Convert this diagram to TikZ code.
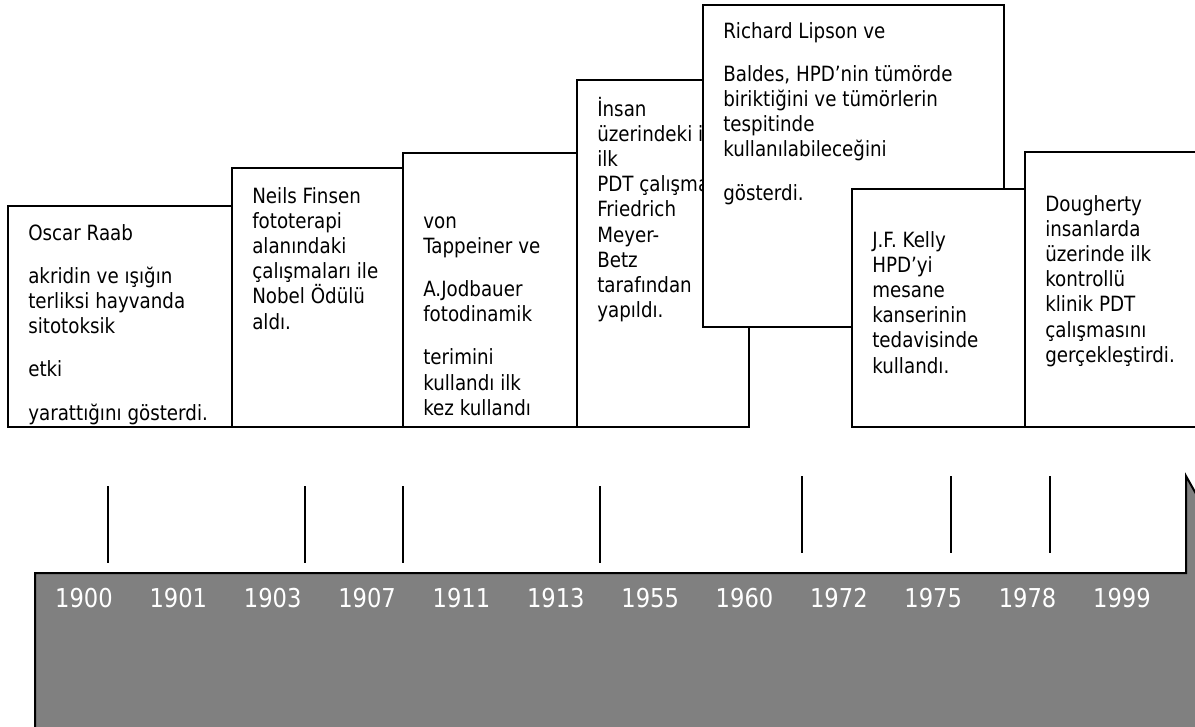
\documentclass[tikz,border=0pt]{standalone}
\usepackage{fontspec}
\setmainfont{DejaVu Sans}[FakeStretch=0.87]
% stacked text lines with a fixed baseline distance
\newcommand\txtlines[1]{\vtop{\baselineskip=18.9pt\lineskiplimit=-100pt\lineskip=0pt\relax#1}}
\newcommand\tline[1]{\hbox{#1}}
\newcommand\pgap{\vskip13.5pt\relax}
\definecolor{bargray}{HTML}{808080}
\begin{document}
\begin{tikzpicture}[x=0.75pt,y=-0.75pt,
  card/.style={draw=black,fill=white,line width=1.5pt},
  txt/.style={anchor=base west,inner sep=0pt,font=\fontsize{15.75pt}{18.9pt}\selectfont},
  year/.style={anchor=base,inner sep=0pt,text=white,font=\fontsize{19.5pt}{22pt}\selectfont},
  tick/.style={draw=black,line width=1.2pt},
  bar/.style={draw=black,fill=bargray,line width=1.5pt}]
\useasboundingbox (0,0) rectangle (1195,726);
\clip (0,0) rectangle (1195,726);

% timeline bar (block arrow pointing right)
\draw[bar] (35,573) -- (1186,573) -- (1186,476) -- (1250,590) -- (1250,760) -- (35,760) -- cycle;

% years
\foreach \yr [count=\i from 0] in {1900,1901,1903,1907,1911,1913,1955,1960,1972,1975,1978,1999}
  \node[year] (y\yr) at ({84+94.36*\i},607) {\yr};

% ticks
\foreach \tx in {108,305,403,600}
  \draw[tick] (\tx,486) -- (\tx,563);
\foreach \tx in {802,951,1050}
  \draw[tick] (\tx,476) -- (\tx,553);

% 1900
\draw[card] (8,206) rectangle (232,427);
\node[txt] (raab) at (28,240) {\txtlines{%
  \tline{Oscar Raab}\pgap
  \tline{akridin ve ışığın}\tline{terliksi hayvanda}\tline{sitotoksik}\pgap
  \tline{etki}\pgap
  \tline{yarattığını gösterdi.}}};

% 1903
\draw[card] (232,168) rectangle (403,427);
\node[txt] (finsen) at (252,203) {\txtlines{%
  \tline{Neils Finsen}\tline{fototerapi}\tline{alanındaki}\tline{çalışmaları ile}%
  \tline{Nobel Ödülü}\tline{aldı.}}};

% 1907
\draw[card] (403,153) rectangle (577,427);
\node[txt] (tappeiner) at (423,228) {\txtlines{%
  \tline{von}\tline{Tappeiner ve}\pgap
  \tline{A.Jodbauer}\tline{fotodinamik}\pgap
  \tline{terimini}\tline{kullandı ilk}\tline{kez kullandı}}};

% 1913
\draw[card] (577,80) rectangle (749,427);
\node[txt] (meyerbetz) at (597,116) {\txtlines{%
  \tline{İnsan}\tline{üzerindeki i}\tline{ilk}\tline{PDT çalışma}\tline{Friedrich}%
  \tline{Meyer-}\tline{Betz}\tline{tarafından}\tline{yapıldı.}}};

% 1960
\draw[card] (703,5) rectangle (1004,327);
\node[txt] (lipson) at (723,38) {\txtlines{%
  \tline{Richard Lipson ve}\pgap
  \tline{Baldes, HPD’nin tümörde}\tline{biriktiğini ve tümörlerin}%
  \tline{tespitinde}\tline{kullanılabileceğini}\pgap
  \tline{gösterdi.}}};

% 1975
\draw[card] (852,189) rectangle (1025,427);
\node[txt] (kelly) at (872,247) {\txtlines{%
  \tline{J.F. Kelly}\tline{HPD’yi}\tline{mesane}\tline{kanserinin}%
  \tline{tedavisinde}\tline{kullandı.}}};

% 1978
\draw[card] (1025,152) rectangle (1210,427);
\node[txt] (dougherty) at (1045,211) {\txtlines{%
  \tline{Dougherty}\tline{insanlarda}\tline{üzerinde ilk}\tline{kontrollü}%
  \tline{klinik PDT}\tline{çalışmasını}\tline{gerçekleştirdi.}}};
\end{tikzpicture}
\end{document}
